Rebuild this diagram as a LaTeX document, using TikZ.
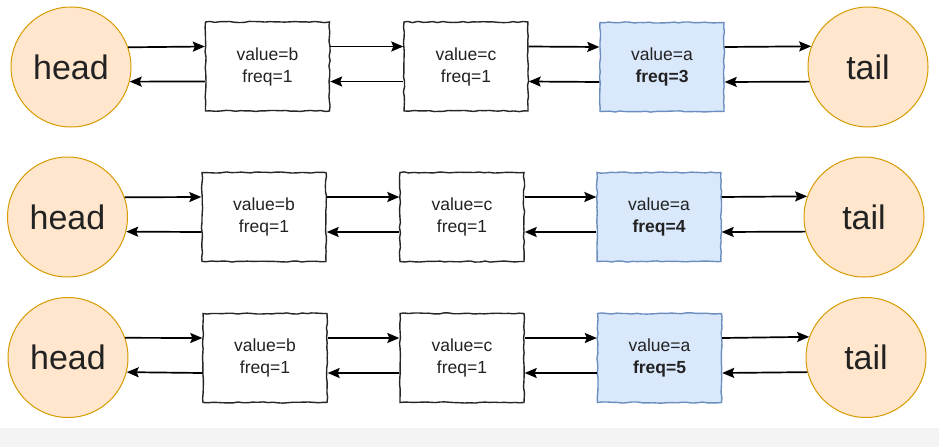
\documentclass[tikz,border=0pt]{standalone}
\usepackage{fontspec}
\setmainfont{Liberation Sans}
\usetikzlibrary{arrows.meta,decorations.pathmorphing}
\definecolor{cfill}{HTML}{FFE6CC}
\definecolor{cline}{HTML}{D79B00}
\definecolor{bfill}{HTML}{DAE8FC}
\definecolor{bline}{HTML}{6C8EBF}
\definecolor{band}{HTML}{F4F4F5}
\definecolor{txt}{HTML}{222222}
\tikzset{
  endpt/.style={circle,draw=cline,fill=cfill,line width=1pt,minimum size=120pt,inner sep=0pt,font=\fontsize{34}{40}\selectfont,text=txt},
  nodebox/.style={rectangle,draw=black!85,fill=white,line width=1.4pt,minimum width=124pt,minimum height=89pt,inner sep=0pt,align=center,font=\fontsize{17.5}{22}\selectfont,text=txt,decorate,decoration={random steps,segment length=5pt,amplitude=0.6pt}},
  hotbox/.style={nodebox,draw=bline,fill=bfill},
  link/.style={line width=1.7pt,-{Stealth[length=12pt,width=10pt,inset=2pt]}}
}
\begin{document}
\pgfmathsetseed{7}
\begin{tikzpicture}[x=1pt,y=-1pt]
\useasboundingbox (0,0) rectangle (939,447);
\fill[band] (0,428) rectangle (939,447);
% row 1
\node[endpt] (h1) at (71,67) {head};
\node[nodebox] (b1) at (267.5,66.5) {value=b\\freq=1};
\node[nodebox] (c1) at (466,66.5) {value=c\\freq=1};
\node[hotbox] (a1) at (662,67) {value=a\\\textbf{freq=3}};
\node[endpt] (t1) at (868,67) {tail};
% row 2
\node[endpt] (h2) at (67.5,217) {head};
\node[nodebox] (b2) at (264,217) {value=b\\freq=1};
\node[nodebox] (c2) at (462,217) {value=c\\freq=1};
\node[hotbox] (a2) at (659,217) {value=a\\\textbf{freq=4}};
\node[endpt] (t2) at (864,217) {tail};
% row 3
\node[endpt] (h3) at (68,357.5) {head};
\node[nodebox] (b3) at (265,358) {value=b\\freq=1};
\node[nodebox] (c3) at (462,358) {value=c\\freq=1};
\node[hotbox] (a3) at (659.5,358) {value=a\\\textbf{freq=5}};
\node[endpt] (t3) at (866,357.5) {tail};
% connectors
\foreach \h/\b/\c/\a/\t in {h1/b1/c1/a1/t1,h2/b2/c2/a2/t2,h3/b3/c3/a3/t3}{
  \draw[link] (\h.19.5) -- ([yshift=20pt]\b.west);
  \draw[link] ([yshift=-15pt]\b.west) -- (\h.-14.5);
  \draw[link] ([yshift=20pt]\b.east) -- ([yshift=20pt]\c.west);
  \draw[link] ([yshift=-15pt]\c.west) -- ([yshift=-15pt]\b.east);
  \draw[link] ([yshift=20pt]\c.east) -- ([yshift=20pt]\a.west);
  \draw[link] ([yshift=-15pt]\a.west) -- ([yshift=-15pt]\c.east);
  \draw[link] ([yshift=20pt]\a.east) -- (\t.160.5);
  \draw[link] (\t.194.5) -- ([yshift=-15pt]\a.east);
}
\end{tikzpicture}
\end{document}
